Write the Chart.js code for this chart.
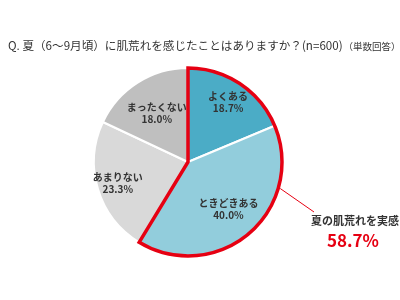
<!DOCTYPE html>
<html>
<head>
<meta charset="utf-8">
<script src="https://cdn.jsdelivr.net/npm/chart.js@4/dist/chart.umd.min.js"></script>
<style>
  html, body { margin: 0; padding: 0; background: #fff; }
  #wrap { position: relative; width: 400px; height: 300px; }
</style>
</head>
<body>
<div id="wrap"><canvas id="pie" width="400" height="300"></canvas></div>
<script>
const labels = ['よくある', 'ときどきある', 'あまりない', 'まったくない'];
const values = [18.7, 40.0, 23.3, 18.0];
const colors = ['#4BACC6', '#92CDDC', '#D9D9D9', '#BFBFBF'];
const titleMain = 'Q. 夏（6～9月頃）に肌荒れを感じたことはありますか？(n=600)';
const titleSub = '（単数回答）';
const calloutLabel = '夏の肌荒れを実感';
const calloutValue = '58.7%';

const FONT = '"Noto Sans CJK JP", "Noto Sans", sans-serif';
const labelR = [0.77, 0.66, 0.78, 0.62];

const overlay = {
    id: 'overlay',
    afterDraw(c) {
        const ctx = c.ctx;
        const arcs = c.getDatasetMeta(0).data;
        const a0 = arcs[0], a1 = arcs[1];
        const cx = a0.x, cy = a0.y, r = a0.outerRadius;

        // title
        ctx.save();
        ctx.fillStyle = '#333';
        ctx.textBaseline = 'middle';
        ctx.font = '11.6px ' + FONT;
        ctx.fillText(titleMain, 8, 46);
        const w = ctx.measureText(titleMain).width;
        ctx.font = '9.5px ' + FONT;
        ctx.fillText(titleSub, 8 + w + 1, 46);
        ctx.restore();

        // slice labels
        ctx.save();
        ctx.fillStyle = '#333';
        ctx.textAlign = 'center';
        ctx.textBaseline = 'middle';
        ctx.font = 'bold 10px ' + FONT;
        arcs.forEach((a, i) => {
            const mid = (a.startAngle + a.endAngle) / 2;
            const x = cx + Math.cos(mid) * r * labelR[i];
            const y = cy + Math.sin(mid) * r * labelR[i];
            ctx.fillText(labels[i], x, y - 6);
            ctx.fillText(values[i].toFixed(1) + '%', x, y + 6);
        });
        ctx.restore();

        // red outline around first two slices
        ctx.save();
        ctx.strokeStyle = '#E60012';
        ctx.lineWidth = 3.5;
        ctx.lineJoin = 'miter';
        ctx.beginPath();
        ctx.moveTo(cx, cy);
        ctx.lineTo(cx + Math.cos(a0.startAngle) * r, cy + Math.sin(a0.startAngle) * r);
        ctx.arc(cx, cy, r, a0.startAngle, a1.endAngle);
        ctx.closePath();
        ctx.stroke();

        // callout
        const ang = 0.28;
        ctx.lineWidth = 1;
        ctx.beginPath();
        ctx.moveTo(cx + Math.cos(ang) * (r + 2), cy + Math.sin(ang) * (r + 2));
        ctx.lineTo(314, 212);
        ctx.stroke();

        ctx.textAlign = 'center';
        ctx.textBaseline = 'middle';
        ctx.fillStyle = '#333';
        ctx.font = 'bold 11px ' + FONT;
        ctx.fillText(calloutLabel, 355, 221);
        ctx.fillStyle = '#E60012';
        ctx.font = 'bold 17px ' + FONT;
        ctx.fillText(calloutValue, 353, 241);
        ctx.restore();
    }
};

new Chart(document.getElementById('pie'), {
    type: 'pie',
    data: {
        labels: labels,
        datasets: [{
            data: values,
            backgroundColor: colors,
            borderColor: '#fff',
            borderWidth: 2
        }]
    },
    options: {
        responsive: false,
        animation: false,
        layout: { padding: { top: 67, bottom: 43, left: 93, right: 117 } },
        plugins: { legend: { display: false }, tooltip: { enabled: false } }
    },
    plugins: [overlay]
});
</script>
</body>
</html>
